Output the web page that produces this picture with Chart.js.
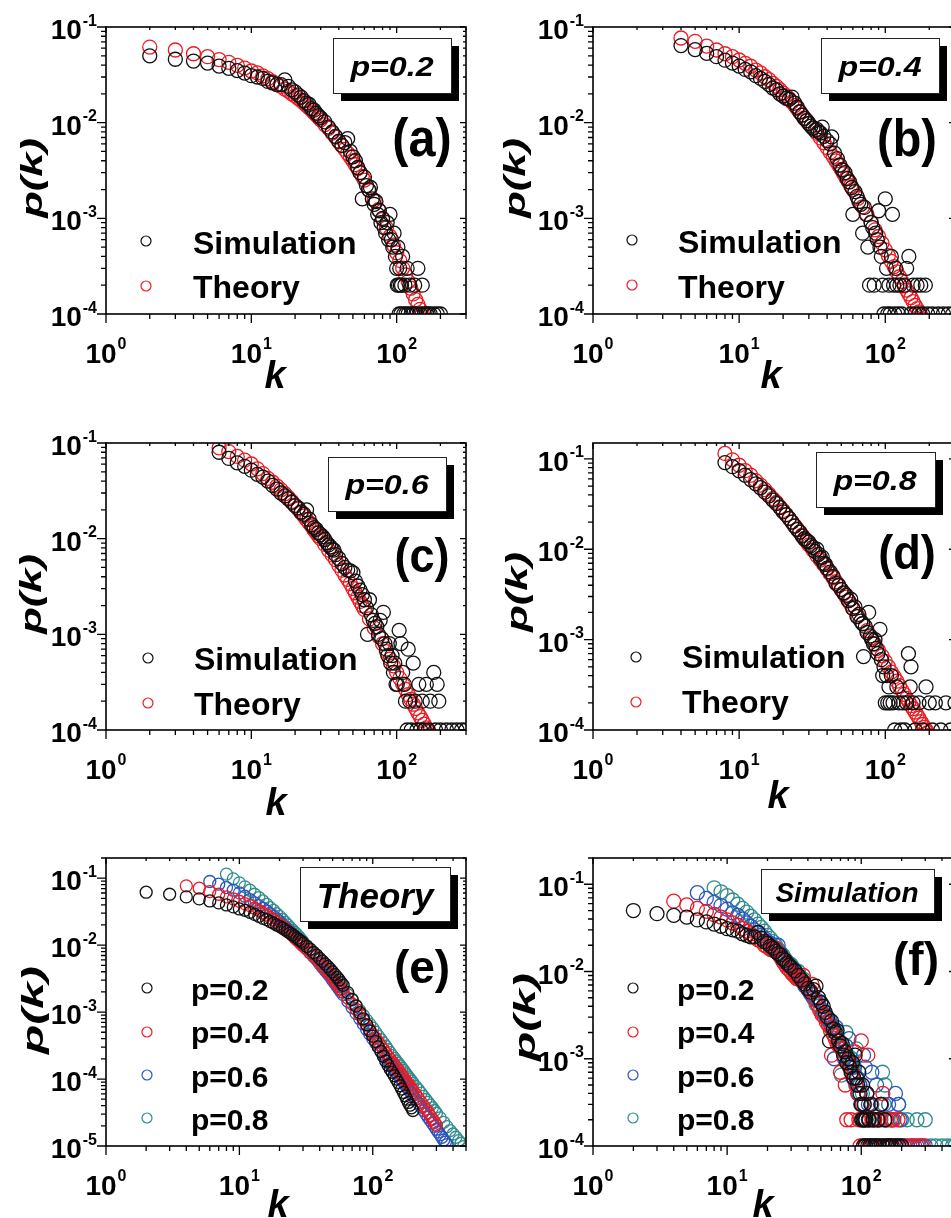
<!DOCTYPE html>
<html><head><meta charset="utf-8">
<script src="https://cdn.jsdelivr.net/npm/chart.js@4.4.1/dist/chart.umd.min.js"></script>
<style>
html,body{margin:0;padding:0;background:#fff;overflow:hidden;}
#wrap{position:relative;width:951px;height:1218px;overflow:hidden;background:#fff;}
canvas{position:absolute;}
</style></head><body><div id="wrap"></div>
<script>
// ---------- data ----------
const theoryK02 = [2,3,4,5,6,7,8,9,10,11,12,13,14,15,16,17,18,19,20,21,22,23,24,25,26,27,28,29,30,32,34,36,38,40,42,44,46,48,50,52,54,56,58,60,65,70,75,80,85,90,95,100,105,110,115,120,125,130,135,140,145,150,155,160,165,170,175,180,185,190,195,200];
const theoryP02 = [0.0617,0.0575,0.0525,0.0490,0.0457,0.0427,0.0398,0.0372,0.0347,0.0331,0.0309,0.0288,0.0269,0.0251,0.0240,0.0224,0.0214,0.0200,0.0191,0.0180,0.0170,0.0160,0.0151,0.0143,0.0135,0.0127,0.0120,0.0114,0.0107,
0.00955,0.00871,0.00776,0.00708,0.00631,0.00575,0.00525,0.00479,0.00437,0.00398,0.00363,0.00331,0.00302,0.00275,0.00251,
0.00195,0.00155,0.00123,0.000977,0.000794,0.000646,0.000525,0.000437,0.000363,0.000302,0.000257,0.000219,0.000186,0.000162,0.000141,0.000126,0.000112,0.000100,0.0000891,0.0000794,0.0000708,0.0000631,0.0000562,0.0000501,0.0000447,0.0000407,0.0000372,0.0000339];

const theoryK04 = [4,5,6,7,8,9,10,11,12,13,14,15,16,17,18,19,20,21,22,23,24,25,26,27,28,29,30,32,34,36,38,40,42,44,46,48,50,52,54,56,58,60,65,70,75,80,85,90,95,100,105,110,115,120,125,130,135,140,145,150,155,160,165,170,175,180,185,190,195,200,210,220,230,240,250,260,270,280,290,300];
const theoryP04 = [0.0767,0.0708,0.0631,0.0575,0.0525,0.0490,0.0452,0.0417,0.0389,0.0355,0.0331,0.0302,0.0282,0.0257,0.0240,0.0221,0.0204,0.0191,0.0178,0.0164,0.0151,0.0140,0.0129,0.0120,0.0112,0.0105,0.00977,
0.00871,0.00776,0.00692,0.00617,0.00550,0.00490,0.00442,0.00398,0.00359,0.00324,0.00292,0.00263,0.00240,0.00219,0.00200,
0.00162,0.00132,0.00110,0.000912,0.000759,0.000646,0.000550,0.000468,0.000407,0.000355,0.000313,0.000275,0.000245,0.000219,0.000197,0.000178,0.000162,0.000148,0.000135,0.000123,0.000114,0.000105,0.0000966,0.0000891,0.0000832,0.0000776,0.0000724,0.0000676,
0.0000589,0.0000513,0.0000452,0.0000398,0.0000355,0.0000316,0.0000282,0.0000251,0.0000226,0.0000204];

const theoryK06 = [6,7,8,9,10,11,12,13,14,15,16,17,18,19,20,21,22,23,24,25,26,27,28,29,30,32,34,36,38,40,42,44,46,48,50,52,54,56,58,60,65,70,75,80,85,90,95,100,105,110,115,120,125,130,135,140,145,150,155,160,165,170,175,180,185,190,195,200,210,220,230,240,250,260,270,280,290,300,310,320,330,340,350,360];
const theoryP06 = [0.0891,0.0813,0.0724,0.0661,0.0603,0.0537,0.0479,0.0427,0.0389,0.0355,0.0324,0.0295,0.0269,0.0245,0.0224,0.0204,0.0186,0.0172,0.0158,0.0146,0.0135,0.0124,0.0115,0.0107,0.0100,
0.00871,0.00759,0.00676,0.00603,0.00525,0.00468,0.00417,0.00376,0.00339,0.00302,0.00272,0.00245,0.00221,0.00200,0.00182,
0.00145,0.00117,0.000955,0.000794,0.000661,0.000550,0.000468,0.000398,0.000347,0.000302,0.000266,0.000234,0.000209,0.000186,0.000168,0.000151,0.000138,0.000126,0.000115,0.000105,0.0000966,0.0000891,0.0000822,0.0000759,0.0000708,0.0000661,0.0000617,0.0000575,
0.0000501,0.0000437,0.0000385,0.0000339,0.0000302,0.0000269,0.0000243,0.0000219,0.0000197,0.0000178,0.0000162,0.0000148,0.0000135,0.0000123,0.0000114,0.0000105];

const theoryK08 = [8,9,10,11,12,13,14,15,16,17,18,19,20,21,22,23,24,25,26,27,28,29,30,32,34,36,38,40,42,44,46,48,50,52,54,56,58,60,65,70,75,80,85,90,95,100,105,110,115,120,125,130,135,140,145,150,155,160,165,170,175,180,185,190,195,200,210,220,230,240,250,260,270,280,290,300,320,340,360,380,400,420,440,460,480,500];
const theoryP08 = [0.115,0.0977,0.0851,0.0741,0.0661,0.0575,0.0513,0.0457,0.0407,0.0363,0.0331,0.0295,0.0269,0.0243,0.0219,0.0200,0.0182,0.0168,0.0155,0.0143,0.0132,0.0122,0.0112,
0.00977,0.00851,0.00759,0.00676,0.00603,0.00537,0.00484,0.00437,0.00394,0.00355,0.00324,0.00295,0.00269,0.00245,0.00224,
0.00182,0.00151,0.00126,0.00105,0.000891,0.000759,0.000661,0.000575,0.000501,0.000437,0.000389,0.000347,0.000309,0.000275,0.000248,0.000224,0.000204,0.000186,0.000172,0.000158,0.000146,0.000135,0.000124,0.000115,0.000107,0.000100,0.0000933,0.0000871,
0.0000776,0.0000692,0.0000617,0.0000550,0.0000495,0.0000447,0.0000407,0.0000372,0.0000339,0.0000309,
0.0000263,0.0000226,0.0000195,0.0000170,0.0000151,0.0000135,0.0000120,0.0000110,0.0000098,0.0000089];

const simK02 = [2,3,4,5,6,7,8,9,10,11,12,13,14,15,16,17,18,19,20,21,22,23,24,25,26,27,28,29,30,32,34,36,38,40,42,44,46,48,50,52,54,56,58,60,62,64,66,68,70,72,74,76,78,80,82,84,86,88,90,92,94,96,98,100,101,102,103,104,105,106,107,108,110,112,114,116,118,120,123,126,130,133,136,140,145,150,155,160,165,170,180,190,200];
const simP02 = [0.050,0.046,0.044,0.042,0.039,0.037,0.035,0.033,0.031,0.030,0.029,0.027,0.026,0.025,0.025,0.028,0.024,0.022,0.021,0.0195,0.0185,0.017,0.016,0.0155,0.014,0.0135,0.0125,0.0118,0.0112,
0.0102,0.009,0.008,0.0072,0.0064,0.0058,0.0062,0.0068,0.005,0.0044,0.004,0.0034,0.003,0.0016,0.0027,
0.0022,0.002,0.0021,0.0016,0.0014,0.0015,0.0011,0.0012,0.0009,0.001,0.0008,0.0007,0.0009,0.0006,0.0011,0.0006,0.0005,0.0007,0.0004,0.0003,
0.0002,0.0005,0.0002,0.0001,0.0003,0.0002,0.0001,0.0002,
0.0004,0.0001,0.0002,0.0001,0.0003,0.0001,
0.0002,0.0001,0.0001,0.0002,0.0001,0.0003,0.0001,0.0002,0.0001,0.0001,0.0001,0.0001,0.0001,0.0001,0.0001];

const simK04 = [4,5,6,7,8,9,10,11,12,13,14,15,16,17,18,19,20,21,22,23,24,25,26,27,28,29,30,31,32,33,34,35,36,37,38,40,42,43,45,47,49,51,53,55,57,59,60,62,64,66,68,70,72,74,76,78,80,82,84,86,88,90,92,94,96,98,100,102,104,106,108,110,112,114,116,118,120,123,126,130,135,140,145,150,155,160,165,170,175,180,188,195,210,230,250,270,290];
const simP04 = [0.064,0.058,0.053,0.049,0.045,0.042,0.039,0.036,0.034,0.031,0.029,0.027,0.025,0.023,0.022,0.020,0.019,0.018,0.0175,0.0185,0.016,0.0145,0.013,0.012,0.011,0.0105,0.0098,
0.0092,0.0088,0.0083,0.0085,0.0080,0.0078,0.0090,0.0072,0.0065,0.0060,0.0071,0.0048,0.0042,0.0036,0.0032,0.0030,0.0026,0.0024,0.0021,0.0011,
0.0019,0.0017,0.0015,0.0014,0.0007,0.0013,0.0011,0.0005,0.0002,0.0009,0.0008,0.0002,0.0007,0.0006,0.0012,0.0005,0.0004,0.0002,0.0001,0.0016,
0.0003,0.0001,0.0002,0.0001,0.0004,0.0011,0.0002,0.0001,0.0003,0.0002,
0.0001,0.0002,0.0001,0.0002,0.0003,0.0004,0.0001,0.0002,0.0001,0.0002,0.0001,0.0002,0.0001,0.0002,0.0001,0.0001,0.0001,0.0001,0.0001,0.0001];

const simK06 = [6,7,8,9,10,11,12,13,14,15,16,17,18,19,20,21,22,23,24,25,26,27,28,29,30,31,32,33,34,35,36,37,38,40,42,44,46,48,50,52,54,56,58,60,62,63,65,67,69,71,73,75,77,79,81,83,85,87,89,91,93,95,97,99,101,104,107,110,113,115,118,120,123,126,130,134,138,142,146,150,155,160,165,170,180,185,190,195,200,220,240,260,280,300];
const simP06 = [0.080,0.069,0.062,0.057,0.052,0.047,0.044,0.040,0.036,0.033,0.030,0.028,0.026,0.024,0.022,0.021,0.019,0.018,0.020,0.016,0.014,0.013,0.0125,0.0115,0.011,
0.0105,0.0098,0.0091,0.0086,0.0082,0.0078,0.0076,0.0068,0.0062,0.0055,0.0050,0.0047,0.0046,0.0044,0.0036,0.0032,0.0029,0.0026,0.0023,0.0019,0.0010,0.0023,0.0016,0.0014,0.0013,0.0012,0.0010,0.0014,0.0009,0.0017,0.0008,0.0007,0.0006,0.0008,0.0005,0.0006,0.0004,0.0005,0.0003,0.0003,0.0011,0.0008,0.0004,0.0003,0.0002,0.0001,0.0007,0.0002,0.0001,0.0005,0.0002,0.0001,0.0003,0.0001,0.0002,0.0001,0.0003,0.0001,0.0002,0.0004,0.0001,0.0003,0.0002,0.0001,0.0001,0.0001,0.0001,0.0001,0.0001];

const simK08 = [8,9,10,11,12,13,14,15,16,17,18,19,20,21,22,23,24,25,26,27,28,29,30,31,32,33,34,35,36,37,38,39,40,42,44,46,48,50,52,54,56,58,60,62,64,66,68,70,71,73,75,77,79,81,83,85,87,89,92,94,96,98,100,102,104,106,108,110,113,116,120,124,128,132,136,140,144,148,150,155,160,170,180,190,200,210,220,240,260,280,300,330,360,400,440,480,500];
const simP08 = [0.091,0.082,0.074,0.066,0.059,0.053,0.048,0.043,0.039,0.035,0.032,0.029,0.026,0.024,0.022,0.020,0.018,0.0165,0.0155,0.014,0.013,0.0125,0.012,
0.011,0.0105,0.0095,0.0100,0.0088,0.0080,0.0082,0.0070,0.0068,0.0062,0.0056,0.0050,0.0042,0.0040,0.0036,0.0033,0.0031,0.0027,0.0028,0.0022,0.0023,0.0018,0.0019,0.0016,0.0015,0.00065,0.0014,0.0012,0.0020,0.0011,0.0010,0.0009,0.0010,0.0008,0.0007,0.0013,0.0006,0.0004,0.0005,0.0002,0.0004,0.0002,0.0003,0.0002,0.0004,0.0002,0.0001,0.0003,0.0002,0.0001,0.0002,0.0001,0.0002,0.0007,0.0003,0.0005,0.0002,0.0001,0.0002,0.0001,0.0003,0.0002,0.0001,0.0002,0.0001,0.0002,0.0001,0.0002,0.0001,0.0001,0.0001,0.0001,0.0001,0.0001];

const pLabels = ['p=0.2','p=0.4','p=0.6','p=0.8'];
const compareNames = ['Simulation','Theory'];
const panelTags = ['(a)','(b)','(c)','(d)','(e)','(f)'];
const xTitle = 'k';
const yTitle = 'p(k)';

// ---------- styling / layout ----------
const BLACK='#111111', RED='#ee1a22', BLUE='#2b54c0', TEAL='#2f8d8c';
const FONT = "'Liberation Sans', Arial, Helvetica, sans-serif";

const panels = [
 {L:0,T:0,W:475,H:400,area:[106,27,466,314],xmax:300,ymin:1e-4,ymax:0.1,r:7,
  series:[[simK02,simP02,BLACK],[theoryK02,theoryP02,RED]],
  legend:{names:compareNames,colors:[BLACK,RED],cx:146,cy:[241,286],tx:193,base:[254,298],size:32},
  box:{x:333,y:38,w:118,h:55,text:pLabels[0],size:28,sx:1.15,cx:392,base:76},
  tag:{text:panelTags[0],x:422,base:156,size:54,sx:0.9}, kt:[275,388], pt:[34,178,1.45]},
 {L:475,T:0,W:490,H:400,area:[593,27,955,314],xmax:300,ymin:1e-4,ymax:0.1,r:7,
  series:[[simK04,simP04,BLACK],[theoryK04,theoryP04,RED]],
  legend:{names:compareNames,colors:[BLACK,RED],cx:632,cy:[240,285],tx:678,base:[253,298],size:32},
  box:{x:821,y:38,w:118,h:55,text:pLabels[1],size:28,sx:1.15,cx:880,base:76},
  tag:{text:panelTags[1],x:907,base:156,size:52,sx:0.9}, kt:[771,388], pt:[517,178,1.45]},
 {L:0,T:400,W:475,H:420,area:[106,443,466,730],xmax:300,ymin:1e-4,ymax:0.1,r:7,
  series:[[simK06,simP06,BLACK],[theoryK06,theoryP06,RED]],
  legend:{names:compareNames,colors:[BLACK,RED],cx:148,cy:[658,703],tx:194,base:[670,715],size:32},
  box:{x:328,y:457,w:118,h:54,text:pLabels[2],size:28,sx:1.15,cx:387,base:494},
  tag:{text:panelTags[2],x:422,base:572,size:49,sx:0.92}, kt:[276,815], pt:[33,594,1.45]},
 {L:475,T:400,W:490,H:420,area:[593,443,955,730],xmax:300,ymin:1e-4,ymax:0.15,r:7,
  series:[[simK08,simP08,BLACK],[theoryK08,theoryP08,RED]],
  legend:{names:compareNames,colors:[BLACK,RED],cx:636,cy:[657,702],tx:682,base:[668,713],size:32},
  box:{x:816,y:452,w:119,h:55,text:pLabels[3],size:28,sx:1.15,cx:875,base:490},
  tag:{text:panelTags[3],x:907,base:569,size:49,sx:0.92}, kt:[778,808], pt:[519,592,1.45]},
 {L:0,T:820,W:475,H:398,area:[106,858,466,1146],xmax:500,ymin:1e-5,ymax:0.2,r:6,
  series:[[theoryK02,theoryP02,BLACK],[theoryK04,theoryP04,RED],[theoryK06,theoryP06,BLUE],[theoryK08,theoryP08,TEAL]],
  legend:{names:pLabels,colors:[BLACK,RED,BLUE,TEAL],cx:147,cy:[988,1032,1075,1118],tx:191,base:[1000,1043,1087,1130],size:30},
  box:{x:300,y:867,w:150,h:54,text:compareNames[1],size:35,sx:1,cx:375,base:908},
  tag:{text:panelTags[4],x:422,base:983,size:46,sx:1}, kt:[278,1217], pt:[35,1010,1.6]},
 {L:475,T:820,W:490,H:398,area:[593,858,955,1146],xmax:500,ymin:1e-4,ymax:0.2,r:7,
  series:[[simK02,simP02,BLACK],[simK04,simP04,RED],[simK06,simP06,BLUE],[simK08,simP08,TEAL]],
  legend:{names:pLabels,colors:[BLACK,RED,BLUE,TEAL],cx:633,cy:[988,1032,1075,1118],tx:677,base:[1000,1043,1087,1130],size:30},
  box:{x:761,y:869,w:173,h:44,text:compareNames[0],size:28,sx:1,cx:847,base:902},
  tag:{text:panelTags[5],x:916,base:975,size:46,sx:1}, kt:[763,1217], pt:[527,1017,1.6]}
];

function isPow10(v){const l=Math.log10(v);return Math.abs(l-Math.round(l))<1e-6;}
function isGridVal(v){const e=Math.floor(Math.log10(v)+1e-9);const s=v/Math.pow(10,e);return Math.abs(s-Math.round(s))<1e-6;}

function drawPow(ctx, exp, x, baseY, supY, anchor){
  ctx.font='bold 28px '+FONT; const wb=ctx.measureText('10').width;
  ctx.font='bold 16px '+FONT; const ws=ctx.measureText(exp).width;
  const total=wb+1+ws;
  const x0 = anchor==='center' ? x-total/2 : x-total;
  ctx.textAlign='left'; ctx.textBaseline='alphabetic';
  ctx.font='bold 28px '+FONT; ctx.fillText('10',x0,baseY);
  ctx.font='bold 16px '+FONT; ctx.fillText(exp,x0+wb+1,supY);
}
function drawText(ctx,text,x,y,font,sx,align){
  ctx.save(); ctx.font=font; ctx.translate(x,y); ctx.scale(sx,1);
  ctx.textAlign=align; ctx.textBaseline='alphabetic'; ctx.fillText(text,0,0); ctx.restore();
}

function makeDecor(P){
  return {
    id:'decor',
    afterDatasetsDraw(chart){
      const ctx=chart.ctx, ca=chart.chartArea, xs=chart.scales.x, ys=chart.scales.y;
      const ox=P.L, oy=P.T;
      ctx.save();
      ctx.fillStyle='#000'; ctx.strokeStyle='#000';
      ctx.lineWidth=1.6;
      ctx.strokeRect(ca.left,ca.top,ca.right-ca.left,ca.bottom-ca.top);
      ctx.lineWidth=1.3;
      ctx.beginPath();
      xs.ticks.forEach(t=>{
        const v=t.value; if(!isGridVal(v)) return;
        const px=xs.getPixelForValue(v); if(px<ca.left-0.5||px>ca.right+0.5) return;
        const maj=isPow10(v);
        ctx.moveTo(px,ca.bottom); ctx.lineTo(px,ca.bottom+(maj?9:5));
        ctx.moveTo(px,ca.top); ctx.lineTo(px,ca.top+(maj?6:3));
      });
      ys.ticks.forEach(t=>{
        const v=t.value; if(!isGridVal(v)) return;
        const py=ys.getPixelForValue(v); if(py<ca.top-0.5||py>ca.bottom+0.5) return;
        const maj=isPow10(v);
        ctx.moveTo(ca.left,py); ctx.lineTo(ca.left-(maj?9:5),py);
        ctx.moveTo(ca.right,py); ctx.lineTo(ca.right-(maj?6:3),py);
      });
      ctx.stroke();
      xs.ticks.forEach(t=>{
        const v=t.value; if(!isPow10(v)) return;
        const px=xs.getPixelForValue(v); if(px<ca.left-0.5||px>ca.right+0.5) return;
        drawPow(ctx,String(Math.round(Math.log10(v))),px,ca.bottom+49,ca.bottom+35,'center');
      });
      ys.ticks.forEach(t=>{
        const v=t.value; if(!isPow10(v)) return;
        const py=ys.getPixelForValue(v); if(py<ca.top-0.5||py>ca.bottom+0.5) return;
        drawPow(ctx,String(Math.round(Math.log10(v))),ca.left-9,py+12,py-1.5,'right');
      });
      drawText(ctx,xTitle,P.kt[0]-ox,P.kt[1]-oy,'italic bold 38px '+FONT,1,'center');
      ctx.save();
      ctx.translate(P.pt[0]-ox,P.pt[1]-oy); ctx.rotate(-Math.PI/2); ctx.scale(P.pt[2],1);
      ctx.font='italic bold 30px '+FONT; ctx.textAlign='center'; ctx.textBaseline='middle';
      ctx.fillText(yTitle,0,0); ctx.restore();
      const lg=P.legend;
      lg.names.forEach((n,i)=>{
        ctx.beginPath(); ctx.arc(lg.cx-ox,lg.cy[i]-oy,5,0,Math.PI*2);
        ctx.strokeStyle=lg.colors[i]; ctx.lineWidth=1.2; ctx.stroke();
        ctx.fillStyle='#000';
        drawText(ctx,n,lg.tx-ox,lg.base[i]-oy,'bold '+lg.size+'px '+FONT,1,'left');
      });
      const b=P.box;
      ctx.fillStyle='#000'; ctx.fillRect(b.x+8-ox,b.y+8-oy,b.w,b.h);
      ctx.fillStyle='#fff'; ctx.fillRect(b.x-ox,b.y-oy,b.w,b.h);
      ctx.strokeStyle='#222'; ctx.lineWidth=1; ctx.strokeRect(b.x-ox+0.5,b.y-oy+0.5,b.w,b.h);
      ctx.fillStyle='#000';
      drawText(ctx,b.text,b.cx-ox,b.base-oy,'italic bold '+b.size+'px '+FONT,b.sx,'center');
      drawText(ctx,P.tag.text,P.tag.x-ox,P.tag.base-oy,'bold '+P.tag.size+'px '+FONT,P.tag.sx,'center');
      ctx.restore();
    }
  };
}

const wrap=document.getElementById('wrap');
panels.forEach(P=>{
  const cv=document.createElement('canvas');
  cv.width=P.W; cv.height=P.H;
  cv.style.left=P.L+'px'; cv.style.top=P.T+'px';
  cv.style.width=P.W+'px'; cv.style.height=P.H+'px';
  wrap.appendChild(cv);
  const [aL,aT,aR,aB]=P.area;
  const datasets=P.series.map(([ks,ps,col])=>{
    const n=Math.min(ks.length,ps.length);
    const pts=[]; for(let i=0;i<n;i++) pts.push({x:ks[i],y:ps[i]});
    return {data:pts,showLine:false,pointStyle:'circle',pointRadius:P.r,pointHoverRadius:P.r,
      pointBorderWidth:1.3,pointBorderColor:col,pointBackgroundColor:'rgba(0,0,0,0)',clip:0};
  });
  new Chart(cv,{
    type:'scatter',
    data:{datasets},
    options:{
      responsive:false, animation:false, events:[],
      layout:{autoPadding:false,padding:{left:0,top:aT-P.T,right:(P.L+P.W)-aR,bottom:0}},
      plugins:{legend:{display:false},tooltip:{enabled:false}},
      scales:{
        x:{type:'logarithmic',min:1,max:P.xmax,grid:{display:false,drawTicks:false},border:{display:false},
           ticks:{display:false},afterFit:(s)=>{s.height=(P.T+P.H)-aB;}},
        y:{type:'logarithmic',min:P.ymin,max:P.ymax,grid:{display:false,drawTicks:false},border:{display:false},
           ticks:{display:false},afterFit:(s)=>{s.width=aL-P.L;}}
      }
    },
    plugins:[makeDecor(P)]
  });
});
</script></body></html>
